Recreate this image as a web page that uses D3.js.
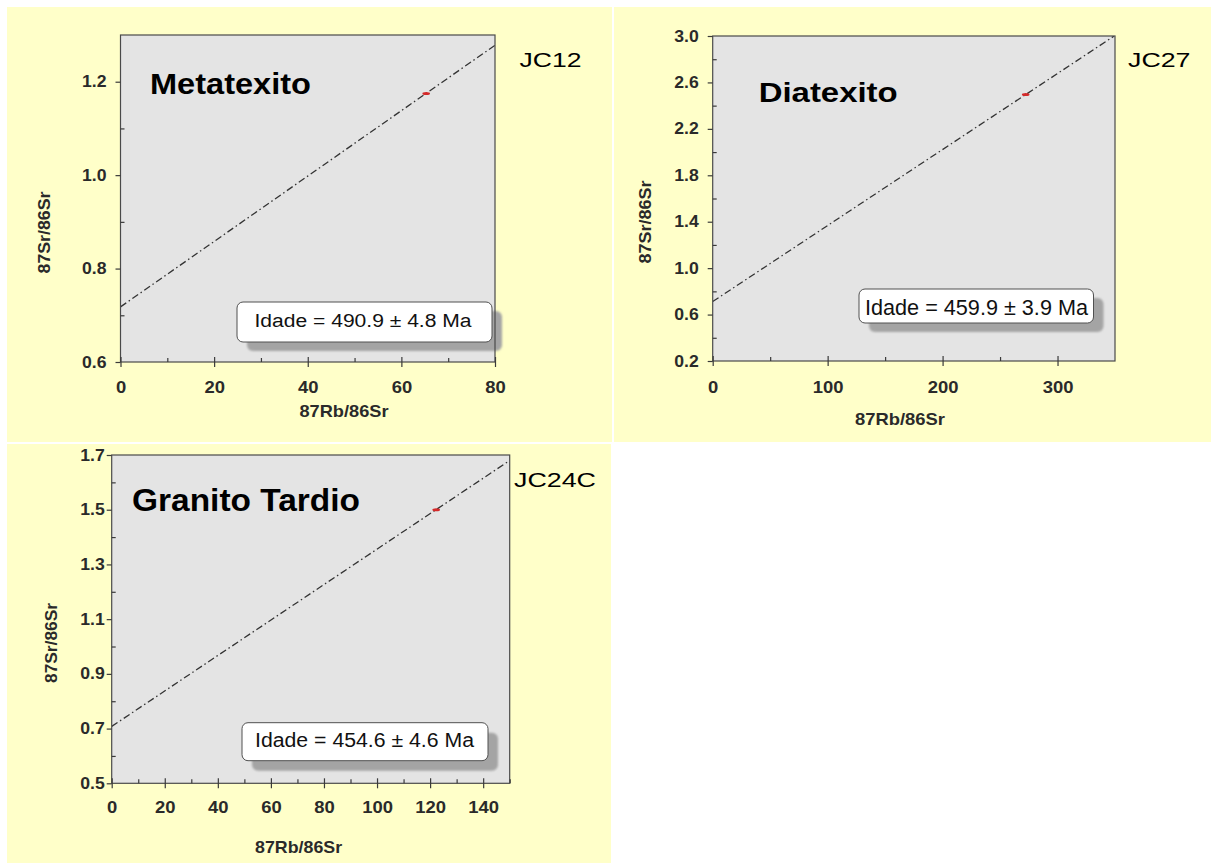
<!DOCTYPE html>
<html>
<head>
<meta charset="utf-8">
<script src="https://cdn.jsdelivr.net/npm/d3@7"></script>
<style>
  html, body { margin: 0; padding: 0; background: #ffffff; }
  svg { display: block; }
  text { font-family: "Liberation Sans", Arial, Helvetica, sans-serif; }
</style>
</head>
<body>
<svg id="chart" width="1211" height="863"></svg>
<script>
// ---------- data ----------
const rockTypes   = ["Metatexito", "Diatexito", "Granito Tardio"];
const sampleIds   = ["JC12", "JC27", "JC24C"];
const ageLabels   = ["Idade = 490.9 ± 4.8 Ma", "Idade = 459.9 ± 3.9 Ma", "Idade = 454.6 ± 4.6 Ma"];
const xTitle      = "87Rb/86Sr";
const yTitle      = "87Sr/86Sr";

const xDomains    = [[0, 80], [0, 350], [0, 150]];
const yDomains    = [[0.6, 1.3], [0.2, 3.0], [0.5, 1.7]];
const xMajorTicks = [[0, 20, 40, 60, 80], [0, 100, 200, 300], [0, 20, 40, 60, 80, 100, 120, 140]];
const xMinorTicks = [[10, 30, 50, 70], [50, 150, 250], [10, 30, 50, 70, 90, 110, 130, 150]];
const yMajorTicks = [[0.6, 0.8, 1.0, 1.2], [0.2, 0.6, 1.0, 1.4, 1.8, 2.2, 2.6, 3.0], [0.5, 0.7, 0.9, 1.1, 1.3, 1.5, 1.7]];
const yMinorTicks = [[0.7, 0.9, 1.1], [0.4, 0.8, 1.2, 1.6, 2.0, 2.4, 2.8], [0.6, 0.8, 1.0, 1.2, 1.4, 1.6]];

// isochron end points (x0, y0) -> (x1, y1)
const isoX0 = [0, 0, 0];
const isoY0 = [0.718, 0.712, 0.708];
const isoX1 = [80, 349, 150];
const isoY1 = [1.278, 2.998, 1.680];

// measured sample points
const pointX = [65.3, 272.3, 122.3];
const pointY = [1.175, 2.496, 1.500];

// ---------- layout (positions / sizes) ----------
const layout = [
  { bg: [7, 7, 605, 435], plot: { l: 120.5, r: 495, t: 35, b: 362 },
    title: { x: 150, y: 94.3, len: 161, fs: 30 },
    sample: { x: 519.5, y: 66.7, len: 62, fs: 21 },
    box: { x: 237, y: 302, w: 255, h: 40, tx: 254.5, ty: 326.5, tlen: 217, fs: 18, sdx: 10, sdy: 9 },
    xT: { cx: 344, y: 417, len: 89 }, yT: { x: 49.5, cy: 232.5, len: 82 },
    xPad: 21, yPad: 9 },
  { bg: [614, 7, 597, 435], plot: { l: 712.7, r: 1115, t: 36, b: 361 },
    title: { x: 758.7, y: 101.7, len: 139, fs: 28 },
    sample: { x: 1128, y: 66.7, len: 62.5, fs: 21 },
    box: { x: 859, y: 289, w: 234.5, h: 34, tx: 865, ty: 315, tlen: 223, fs: 22, sdx: 10, sdy: 9 },
    xT: { cx: 900, y: 425, len: 90 }, yT: { x: 651, cy: 222, len: 83 },
    xPad: 21.5, yPad: 9 },
  { bg: [7, 444, 604, 419], plot: { l: 111.7, r: 509.7, t: 455, b: 783.3 },
    title: { x: 132, y: 511, len: 228, fs: 31 },
    sample: { x: 514, y: 486.7, len: 82, fs: 21 },
    box: { x: 242, y: 722.7, w: 246, h: 38, tx: 255, ty: 747.3, tlen: 219, fs: 20, sdx: 10, sdy: 10 },
    xT: { cx: 298.6, y: 852.7, len: 87 }, yT: { x: 57, cy: 643, len: 80 },
    xPad: 19.5, yPad: 2 }
];

const svg = d3.select("#chart");
const defs = svg.append("defs");
defs.append("filter").attr("id", "blur")
  .attr("x", "-10%").attr("y", "-20%").attr("width", "120%").attr("height", "140%")
  .append("feGaussianBlur").attr("stdDeviation", 1.2);

const stretch = (sel, factor) => sel.each(function () {
  const l = this.getComputedTextLength();
  d3.select(this).attr("textLength", l * factor).attr("lengthAdjust", "spacingAndGlyphs");
});

rockTypes.forEach((rock, i) => {
  const L = layout[i];
  const P = L.plot;
  const g = svg.append("g");

  // panel background
  g.append("rect").attr("x", L.bg[0]).attr("y", L.bg[1]).attr("width", L.bg[2]).attr("height", L.bg[3])
    .attr("fill", "#ffffc9");

  const x = d3.scaleLinear().domain(xDomains[i]).range([P.l, P.r]);
  const y = d3.scaleLinear().domain(yDomains[i]).range([P.b, P.t]);

  // plot area
  g.append("rect").attr("x", P.l).attr("y", P.t).attr("width", P.r - P.l).attr("height", P.b - P.t)
    .attr("fill", "#e4e4e4");

  // isochron (clipped)
  const clipId = "clip" + i;
  defs.append("clipPath").attr("id", clipId).append("rect")
    .attr("x", P.l).attr("y", P.t).attr("width", P.r - P.l).attr("height", P.b - P.t);
  g.append("line")
    .attr("clip-path", `url(#${clipId})`)
    .attr("x1", x(isoX0[i])).attr("y1", y(isoY0[i]))
    .attr("x2", x(isoX1[i])).attr("y2", y(isoY1[i]))
    .attr("stroke", "#333333").attr("stroke-width", 1.3)
    .attr("stroke-dasharray", "7,3,1.5,3");

  // sample point
  g.append("ellipse").attr("cx", x(pointX[i])).attr("cy", y(pointY[i]))
    .attr("rx", 3.8).attr("ry", 1.5).attr("fill", "#d42a2a");

  // titles
  g.append("text").attr("x", L.title.x).attr("y", L.title.y)
    .attr("font-size", L.title.fs).attr("font-weight", "bold").attr("fill", "#000")
    .attr("textLength", L.title.len).attr("lengthAdjust", "spacingAndGlyphs")
    .text(rock);
  g.append("text").attr("x", L.sample.x).attr("y", L.sample.y)
    .attr("font-size", L.sample.fs).attr("fill", "#000")
    .attr("textLength", L.sample.len).attr("lengthAdjust", "spacingAndGlyphs")
    .text(sampleIds[i]);

  // age box with shadow
  const B = L.box;
  g.append("rect").attr("x", B.x + B.sdx).attr("y", B.y + B.sdy).attr("width", B.w).attr("height", B.h)
    .attr("rx", 6).attr("fill", "#a4a4a4").attr("filter", "url(#blur)");
  g.append("rect").attr("x", B.x).attr("y", B.y).attr("width", B.w).attr("height", B.h)
    .attr("rx", 6).attr("fill", "#ffffff").attr("stroke", "#505050").attr("stroke-width", 1);
  g.append("text").attr("x", B.tx).attr("y", B.ty)
    .attr("font-size", B.fs).attr("fill", "#111")
    .attr("textLength", B.tlen).attr("lengthAdjust", "spacingAndGlyphs")
    .text(ageLabels[i]);

  // frame
  g.append("rect").attr("x", P.l).attr("y", P.t).attr("width", P.r - P.l).attr("height", P.b - P.t)
    .attr("fill", "none").attr("stroke", "#4a4a4a").attr("stroke-width", 1.2);

  // x axis: major ticks crossing the axis, minor ticks inside
  const xAx = g.append("g").attr("transform", `translate(0,${P.b})`)
    .call(d3.axisBottom(x).tickValues(xMajorTicks[i]).tickSize(5).tickPadding(L.xPad - 6).tickFormat(d3.format("d")));
  xAx.select(".domain").remove();
  xAx.selectAll(".tick line").attr("y1", -5).attr("stroke", "#3a3a3a").attr("stroke-width", 1.2);
  xAx.selectAll(".tick text").attr("font-size", 16).attr("font-weight", "bold").attr("fill", "#2a2a2a")
    .attr("font-family", "Liberation Sans, Arial, sans-serif");
  stretch(xAx.selectAll(".tick text"), 1.15);
  const xMin = g.append("g").attr("transform", `translate(0,${P.b})`)
    .call(d3.axisBottom(x).tickValues(xMinorTicks[i]).tickSize(-4).tickFormat(""));
  xMin.select(".domain").remove();
  xMin.selectAll(".tick line").attr("stroke", "#3a3a3a").attr("stroke-width", 1.2);

  // y axis: major ticks outside, minor ticks inside
  const yAx = g.append("g").attr("transform", `translate(${P.l},0)`)
    .call(d3.axisLeft(y).tickValues(yMajorTicks[i]).tickSize(5).tickPadding(L.yPad).tickFormat(d3.format(".1f")));
  yAx.select(".domain").remove();
  yAx.selectAll(".tick line").attr("stroke", "#3a3a3a").attr("stroke-width", 1.2);
  yAx.selectAll(".tick text").attr("font-size", 16).attr("font-weight", "bold").attr("fill", "#2a2a2a")
    .attr("font-family", "Liberation Sans, Arial, sans-serif");
  stretch(yAx.selectAll(".tick text"), 1.1);
  const yMin = g.append("g").attr("transform", `translate(${P.l},0)`)
    .call(d3.axisLeft(y).tickValues(yMinorTicks[i]).tickSize(-4).tickFormat(""));
  yMin.select(".domain").remove();
  yMin.selectAll(".tick line").attr("stroke", "#3a3a3a").attr("stroke-width", 1.2);

  // axis titles
  g.append("text").attr("x", L.xT.cx).attr("y", L.xT.y).attr("text-anchor", "middle")
    .attr("font-size", 17).attr("font-weight", "bold").attr("fill", "#2a2a2a")
    .attr("textLength", L.xT.len).attr("lengthAdjust", "spacingAndGlyphs")
    .text(xTitle);
  g.append("text").attr("transform", `translate(${L.yT.x},${L.yT.cy}) rotate(-90)`)
    .attr("text-anchor", "middle")
    .attr("font-size", 17).attr("font-weight", "bold").attr("fill", "#2a2a2a")
    .attr("textLength", L.yT.len).attr("lengthAdjust", "spacingAndGlyphs")
    .text(yTitle);
});
</script>
</body>
</html>
